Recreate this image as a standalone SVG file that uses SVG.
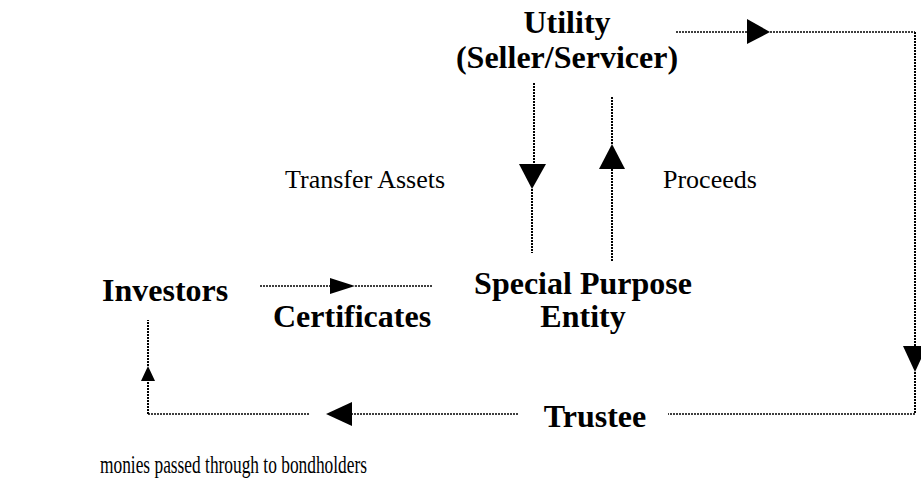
<svg xmlns="http://www.w3.org/2000/svg" width="921" height="489" viewBox="0 0 921 489">
<style>
.b{font-family:'Liberation Serif','Times New Roman',Times,serif;font-weight:bold;font-size:32px;fill:#000}
.r{font-family:'Liberation Serif','Times New Roman',Times,serif;font-size:26px;fill:#000}
.d{fill:none;stroke:#000;stroke-width:2;stroke-dasharray:2 1}
.h{fill:none;stroke:#000;stroke-width:1.6;stroke-dasharray:2 1}
.a{fill:#000;stroke:none}
</style>
<rect width="921" height="489" fill="#fff"/>
<g id="utility"><text class="b" x="567" y="33" text-anchor="middle">Utility</text><text class="b" x="567" y="68" text-anchor="middle">(Seller/Servicer)</text></g>
<g id="investors"><text class="b" x="102" y="301">Investors</text></g>
<g id="certificates"><text class="b" x="273" y="327">Certificates</text></g>
<g id="spe"><text class="b" x="583" y="294" text-anchor="middle">Special Purpose</text><text class="b" x="583" y="327" text-anchor="middle">Entity</text></g>
<g id="trustee"><text class="b" x="595" y="427" text-anchor="middle">Trustee</text></g>
<g id="labels">
<text class="r" x="285" y="188">Transfer Assets</text>
<text class="r" x="663" y="188">Proceeds</text>
<text class="r" x="100" y="473" textLength="267" lengthAdjust="spacingAndGlyphs">monies passed through to bondholders</text>
</g>
<g id="connectors">
<path class="h" d="M676 32H747M770 32H915"/>
<polygon class="a" points="747,19 770,32 747,44"/>
<path class="d" d="M915 32V346M915 372V414"/>
<polygon class="a" points="903,346 927,346 915,372"/>
<path class="h" d="M915 414H668"/>
<path class="h" d="M518 414H352"/>
<polygon class="a" points="352,402 326,414 352,426"/>
<path class="h" d="M309 414H148"/>
<path class="d" d="M148 414V381"/>
<polygon class="a" points="141,381 155,381 148,366"/>
<path class="d" d="M148 366V320"/>
<path class="d" d="M534 83V164M532 189V253"/>
<polygon class="a" points="519,164 546,164 532,189"/>
<path class="d" d="M612 97V144M612 169V262"/>
<polygon class="a" points="599,169 625,169 612,144"/>
<path class="h" d="M260 286H330M355 286H433"/>
<polygon class="a" points="330,278 355,286 330,294"/>
</g>
</svg>
